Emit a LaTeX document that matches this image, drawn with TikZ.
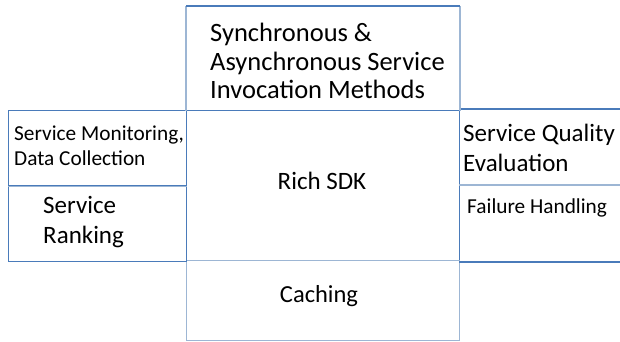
\documentclass[tikz,border=0pt]{standalone}
\usepackage{fontspec}
\setmainfont{Carlito}
\definecolor{edgeblue}{HTML}{4A7BBA}
\definecolor{edgelight}{HTML}{9DB6D4}
\tikzset{
  box/.style={draw=edgeblue, line width=1.1pt, rectangle, inner sep=0pt, anchor=north west},
  big/.style={font=\fontsize{25}{29.5}\selectfont, align=left, inner sep=0pt, text=black},
  small/.style={font=\fontsize{21.3}{25}\selectfont, align=left, inner sep=0pt, text=black},
  edge/.style={draw=edgeblue, line width=1.1pt},
  lightedge/.style={draw=edgelight, line width=1.6pt}
}
\begin{document}
\begin{tikzpicture}[x=1pt,y=-1pt]
\useasboundingbox (0,0) rectangle (620,341);
% central column
\node[box, minimum width=273pt, minimum height=104pt] (topbox) at (186,6) {};
\node[box, minimum width=273pt, minimum height=150pt] (sdkbox) at (186,110) {};
\node[box, draw=edgelight, minimum width=273pt, minimum height=80pt] (cachebox) at (186,260) {};
% left column
\node[box, minimum width=178pt, minimum height=75pt] (mon) at (8,110) {};
\node[box, minimum width=178pt, minimum height=76pt] (rank) at (8,185) {};
% right column (open on the right)
\coordinate (r1) at (459,109);
\coordinate (r1e) at (620,109);
\coordinate (r2) at (459,185);
\coordinate (r2e) at (620,185);
\coordinate (r3) at (459,262);
\coordinate (r3e) at (620,262);
\draw[edge] (r1) -- (r1e);
\draw[lightedge, line width=1.2pt] (r2) -- (r2e);
\draw[edge] (r3) -- (r3e);
% lighter vertical edges
\draw[lightedge] (topbox.north west) -- (topbox.south west);
\draw[lightedge] (topbox.north east) -- (topbox.south east);
\draw[edge] (topbox.north west) -- (topbox.north east);
\draw[lightedge, line width=1.2pt] (mon.south west) -- (mon.south east);
% texts
\node[big, font=\fontsize{26.5}{28.5}\selectfont, anchor=west] (syn) at (210,61) {Synchronous \&\\Asynchronous Service\\Invocation Methods};
\node[big] (sdk) at (322,181) {Rich SDK};
\node[big, font=\fontsize{24.5}{29}\selectfont] (cache) at (319,296) {Caching};
\node[small, anchor=west] (montext) at (14,146) {Service Monitoring,\\Data Collection};
\node[big, anchor=west] (ranktext) at (43,222) {Service\\Ranking};
\node[big, anchor=west] (qual) at (463,148) {Service Quality\\Evaluation};
\node[small, anchor=west] (fail) at (467,208) {Failure Handling};
\end{tikzpicture}
\end{document}
